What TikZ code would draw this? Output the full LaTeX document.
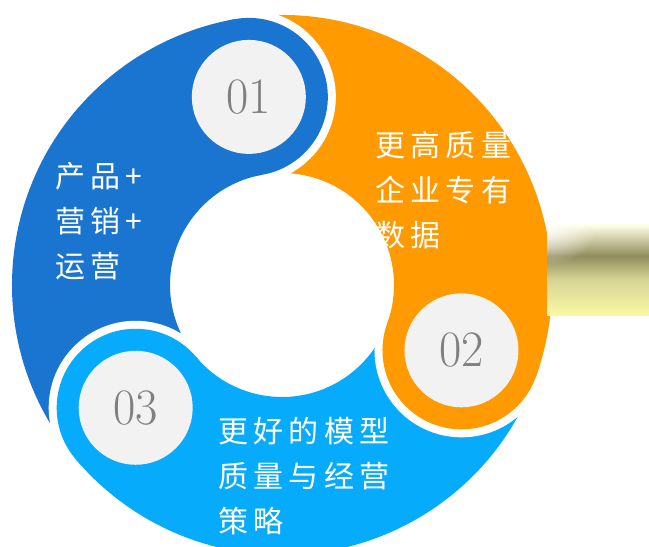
\documentclass[tikz,border=0pt]{standalone}
\usepackage{fontspec}
\newfontfamily\cjk[LetterSpace=18]{Noto Sans CJK SC}
\usetikzlibrary{fadings}
\definecolor{cA}{RGB}{26,117,208}
\definecolor{cB}{RGB}{255,154,0}
\definecolor{cC}{RGB}{6,171,252}
\definecolor{disc}{RGB}{242,242,242}
\definecolor{numgray}{RGB}{128,128,128}
\definecolor{ytop}{RGB}{255,255,228}
\definecolor{ymid}{RGB}{215,212,150}
\definecolor{yolive}{RGB}{145,140,92}
\definecolor{ybot}{RGB}{250,250,165}
\pgfdeclareverticalshading{ybar}{100bp}{color(0bp)=(ybot); color(25bp)=(ybot); color(45bp)=(ymid); color(58bp)=(yolive); color(75bp)=(ytop); color(100bp)=(ytop)}
\tikzfading[name=tlfade, inner color=transparent!0, outer color=transparent!100]
\begin{document}
\begin{tikzpicture}[x=1pt,y=1pt,
  headtxt/.style={text=numgray, font=\fontsize{51}{51}\selectfont, xscale=0.95, inner sep=0pt},
  lbl/.style={anchor=north west, inner sep=0pt, align=left, text=white, font=\cjk\fontsize{30}{45}\selectfont}]
\useasboundingbox (0,0) rectangle (649,547);
\begin{scope}[shift={(282,262)}]
 \fill[cA] (220:270) arc[start angle=220,end angle=100,radius=270] -- (100:112) arc[start angle=100,end angle=220,radius=112] -- cycle;
 \fill[cB] (100:270) arc[start angle=100,end angle=-20,radius=270] -- (-20:112) arc[start angle=-20,end angle=100,radius=112] -- cycle;
 \fill[cC] (-20:270) arc[start angle=-20,end angle=-140,radius=270] -- (-140:112) arc[start angle=-140,end angle=-20,radius=112] -- cycle;
 \foreach \a/\c in {100/cA,-20/cB,-140/cC}{
   \begin{scope}
     \clip (0,0) -- (\a:420) arc[start angle=\a,end angle=\a-70,radius=420] -- cycle;
     \fill[white] (\a:191) circle[radius=87];
   \end{scope}
   \fill[\c] (\a:191) circle[radius=79];
   \fill[disc] (\a:191) circle[radius=57];
 }
 \node[headtxt] (n1) at (100:191) {01};
 \node[headtxt] (n2) at (-20:191) {02};
 \node[headtxt] (n3) at (-140:191) {03};
\end{scope}
\shade[shading=ybar] (547,231) rectangle (649,322);
\begin{scope}
  \clip (547,231) rectangle (649,322);
  \fill[white, path fading=tlfade, fill opacity=0.9] (497,282) rectangle (597,362);
\end{scope}
\node[lbl] (t1) at (55,385) {产品+\\营销+\\运营};
\node[lbl] (t2) at (375,416) {更高质量\\企业专有\\数据};
\node[lbl] (t3) at (218,130) {更好的模型\\质量与经营\\策略};
\end{tikzpicture}
\end{document}
